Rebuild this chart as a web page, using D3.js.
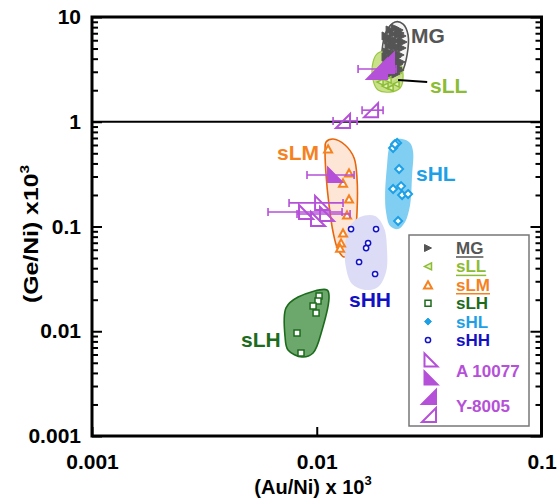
<!DOCTYPE html>
<html><head><meta charset="utf-8">
<script src="https://cdn.jsdelivr.net/npm/d3@7"></script>
<style>
body{margin:0;background:#fff}
text{font-family:"Liberation Sans",Arial,Helvetica,sans-serif;font-weight:bold}
</style>
</head><body>
<svg id="c" width="557" height="501"></svg>
<script>
// ---------- DATA ----------
const xTickValues = [0.001, 0.01, 0.1];
const xTickLabels = ["0.001", "0.01", "0.1"];
const yTickValues = [0.001, 0.01, 0.1, 1, 10];
const yTickLabels = ["0.001", "0.01", "0.1", "1", "10"];
const groupNames = ["MG", "sLL", "sLM", "sLH", "sHL", "sHH"];
const meteoriteNames = ["A 10077", "Y-8005"];

const mgHull = [[0.02231,8.96],[0.02422,8.57],[0.02549,6.73],[0.02523,4.34],[0.02397,2.99],[0.02186,2.39],[0.02034,2.39],[0.01953,3.12],[0.01953,4.84],[0.02034,7.19]];
const mgPoints = [[0.02120,7.51],[0.02231,7.85],[0.02325,7.51],[0.02186,6.88],[0.02301,6.73],[0.02397,6.59],[0.02077,6.03],[0.02164,6.03],[0.02254,5.90],[0.02373,5.77],[0.02098,5.29],[0.02208,5.17],[0.02301,5.06],[0.02397,5.06],[0.02055,4.63],[0.02142,4.53],[0.02254,4.43],[0.02349,4.34],[0.02077,3.97],[0.02186,3.89],[0.02278,3.80],[0.02373,3.72],[0.02098,3.40],[0.02208,3.33],[0.02301,3.26],[0.02142,2.99],[0.02254,2.86],[0.02077,2.80],[0.02186,5.40],[0.02278,4.15],[0.02034,6.59],[0.02349,7.03],[0.02422,5.77],[0.02055,3.64],[0.02164,3.56],[0.02325,3.56],[0.02120,3.12],[0.02231,3.12],[0.02349,3.12],[0.02034,4.15]];

const sllHull = [[0.01874,4.53],[0.02120,4.63],[0.02301,4.06],[0.02422,2.80],[0.02349,2.10],[0.02120,1.92],[0.01874,2.01],[0.01781,2.50],[0.01781,3.72]];
const sllPoints = [[0.01913,2.39],[0.02014,2.19],[0.02120,2.10],[0.02254,2.29],[0.02301,3.12],[0.02231,3.72],[0.02077,2.50],[0.01993,3.26]];

const slmHull = [[0.01100,0.641],[0.01182,0.684],[0.01336,0.600],[0.01466,0.451],[0.01512,0.278],[0.01512,0.1437],[0.01481,0.0830],[0.01407,0.0571],[0.01323,0.0511],[0.01244,0.0597],[0.01182,0.0886],[0.01134,0.1604],[0.01100,0.310],[0.01089,0.538]];
const slmPoints = [[0.01123,0.550],[0.01392,0.324],[0.01309,0.260],[0.01392,0.183],[0.01364,0.1287],[0.01309,0.0867],[0.01283,0.0696],[0.01270,0.0623]];

const slhHull = [[0.00730,0.0167],[0.00826,0.0212],[0.01111,0.0248],[0.01134,0.0217],[0.01056,0.0103],[0.00963,0.00620],[0.00860,0.00568],[0.00745,0.00662],[0.00723,0.00881]];
const slhPoints = [[0.01024,0.0217],[0.01013,0.0194],[0.00963,0.0174],[0.00993,0.0149],[0.00817,0.00962],[0.00851,0.00620]];

const shlHull = [[0.02186,0.669],[0.02397,0.684],[0.02602,0.627],[0.02684,0.514],[0.02656,0.310],[0.02602,0.1604],[0.02472,0.1104],[0.02301,0.0946],[0.02120,0.1011],[0.02034,0.1375],[0.02014,0.200],[0.02055,0.387],[0.02098,0.562]];
const shlPoints = [[0.02278,0.627],[0.02186,0.562],[0.02231,0.610],[0.02325,0.354],[0.02373,0.243],[0.02186,0.228],[0.02397,0.200],[0.02549,0.204],[0.02301,0.1128]];

const shhHull = [[0.01558,0.1232],[0.01818,0.1259],[0.01993,0.0967],[0.02055,0.0597],[0.02034,0.0368],[0.01874,0.0265],[0.01641,0.0248],[0.01436,0.0283],[0.01350,0.0402],[0.01336,0.0666],[0.01407,0.1011]];
const shhPoints = [[0.01421,0.0946],[0.01836,0.0946],[0.01692,0.0696],[0.01658,0.0623],[0.01543,0.0458],[0.01818,0.0352]];

// purple meteorites: x, y, error bar low/high in x
const a10077Open = [{x:0.01056,y:0.168,lo:0.00753,hi:0.01309},{x:0.00896,y:0.1375,lo:0.00607,hi:0.01296},{x:0.01111,y:0.1317,lo:0.00817,hi:0.01407},{x:0.01013,y:0.1179,lo:null,hi:null}];
const a10077Filled = [{x:0.01206,y:0.310,lo:0.00905,hi:0.01466}];
const y8005Open = [{x:0.01309,y:1.017,lo:0.01182,hi:0.01512},{x:0.01745,y:1.29,lo:0.01591,hi:0.01973}];
const y8005Filled = [{x:0.01855,y:3.19,lo:0.01527,hi:0.02254},{x:0.01993,y:3.64,lo:null,hi:null}];

// ---------- CHART ----------
const svg = d3.select("#c");
const L = 92, R = 541.5, T = 17, B = 436;
const x = d3.scaleLog().domain([0.001, 0.1]).range([L, R]);
const y = d3.scaleLog().domain([0.001, 10]).range([B, T]);

const col = {MG:"#555555", sLL:"#8cbc34", sLM:"#f5821f", sLH:"#1d6b1d", sHL:"#1ea0e6", sHH:"#1212c4", P:"#b550d8"};

const hullLine = d3.line().x(d => x(d[0])).y(d => y(d[1])).curve(d3.curveCatmullRomClosed.alpha(0.5));

const gH = svg.append("g");
gH.append("path").attr("d", hullLine(mgHull)).attr("fill", "#f4f4f4").attr("stroke", "#555").attr("stroke-width", 1.6);
gH.append("path").attr("d", hullLine(sllHull)).attr("fill", "#c6e083").attr("fill-opacity", 0.95).attr("stroke", "#9cc640").attr("stroke-width", 1.2);
gH.append("path").attr("d", hullLine(slmHull)).attr("fill", "#fde6d6").attr("stroke", "#e8650c").attr("stroke-width", 1.6);
gH.append("path").attr("d", hullLine(shlHull)).attr("fill", "#80cff3");
gH.append("path").attr("d", hullLine(shhHull)).attr("fill", "#dcdcf6");
gH.append("path").attr("d", hullLine(slhHull)).attr("fill", "#6ca86c").attr("stroke", "#1d6b1d").attr("stroke-width", 1.6);

// separator line at y = 1
svg.append("line").attr("x1", L).attr("x2", R).attr("y1", y(1)).attr("y2", y(1)).attr("stroke", "#000").attr("stroke-width", 2);

// markers
function triRight(s){ return `M${-s/2},${-s/2}L${s/2},0L${-s/2},${s/2}Z`; }
function triLeft(s){ return `M${s/2},${-s/2}L${-s/2},0L${s/2},${s/2}Z`; }
function triUp(s){ const h=s*0.9; return `M0,${-h/2}L${s/2},${h/2}L${-s/2},${h/2}Z`; }
function diamond(s){ return `M0,${-s/2}L${s/2},0L0,${s/2}L${-s/2},0Z`; }
function square(s){ return `M${-s/2},${-s/2}h${s}v${s}h${-s}Z`; }
function rtA(s){ return `M${-s/2},${-s/2}L${-s/2},${s/2}L${s/2},${s/2}Z`; }
function rtY(s){ return `M${s/2},${-s/2}L${s/2},${s/2}L${-s/2},${s/2}Z`; }

const gP = svg.append("g");
function plotPts(pts, pathStr, fill, stroke, sw){
  gP.append("g").selectAll("path").data(pts).join("path")
    .attr("transform", d => `translate(${x(d[0])},${y(d[1])})`)
    .attr("d", pathStr).attr("fill", fill).attr("stroke", stroke).attr("stroke-width", sw);
}
plotPts(sllPoints, triLeft(6), "#e4f2c4", col.sLL, 1.5);
plotPts(mgPoints, triRight(8), col.MG, col.MG, 1);
plotPts(slmPoints, triUp(8), "#fff", col.sLM, 2);
plotPts(slhPoints, square(6), "#fff", col.sLH, 1.5);
plotPts(shlPoints, diamond(8), "#fff", col.sHL, 2);
gP.append("g").selectAll("circle").data(shhPoints).join("circle")
  .attr("cx", d => x(d[0])).attr("cy", d => y(d[1])).attr("r", 2.6)
  .attr("fill", "#fff").attr("stroke", col.sHH).attr("stroke-width", 1.5);

// purple meteorite data with error bars
const gM = svg.append("g");
function plotMet(arr, pathStr, filled){
  const bars = arr.filter(d => d.lo != null);
  const g = gM.append("g");
  g.selectAll("line.bar").data(bars).join("line").attr("class","bar")
    .attr("x1", d => x(d.lo)).attr("x2", d => x(d.hi)).attr("y1", d => y(d.y)).attr("y2", d => y(d.y))
    .attr("stroke", col.P).attr("stroke-width", 1.6);
  ["lo","hi"].forEach(k => {
    g.selectAll("line.cap"+k).data(bars).join("line").attr("class","cap"+k)
      .attr("x1", d => x(d[k])).attr("x2", d => x(d[k])).attr("y1", d => y(d.y)-4).attr("y2", d => y(d.y)+4)
      .attr("stroke", col.P).attr("stroke-width", 1.6);
  });
  g.selectAll("path").data(arr).join("path")
    .attr("transform", d => `translate(${x(d.x)},${y(d.y)})`)
    .attr("d", pathStr).attr("fill", filled ? col.P : "none").attr("stroke", col.P).attr("stroke-width", 2);
}
plotMet(a10077Open, rtA(14), false);
plotMet(a10077Filled, rtA(14), true);
plotMet(y8005Open, rtY(14), false);
plotMet(y8005Filled, rtY(20), true);

// sLL leader line
svg.append("line").attr("x1", x(0.02301)).attr("y1", y(2.50)).attr("x2", x(0.0310)).attr("y2", y(2.39))
  .attr("stroke", "#000").attr("stroke-width", 2);

// group labels
const labels = [
  {t:"MG", c:col.MG, px:411, py:43},
  {t:"sLL", c:col.sLL, px:430, py:93},
  {t:"sLM", c:col.sLM, px:277, py:160},
  {t:"sHL", c:col.sHL, px:416, py:181},
  {t:"sHH", c:col.sHH, px:349, py:307},
  {t:"sLH", c:col.sLH, px:241, py:347}
];
svg.append("g").selectAll("text").data(labels).join("text")
  .attr("x", d => d.px).attr("y", d => d.py).attr("fill", d => d.c)
  .style("font-size", "21px").text(d => d.t);

// ---------- AXES ----------
const minorY = y.ticks().filter(v => !yTickValues.includes(v));

const axG = svg.append("g");
// left
axG.append("g").attr("transform", `translate(${L},0)`)
  .call(d3.axisLeft(y).tickValues(minorY).tickSize(-6).tickFormat(""))
  .call(g => g.select(".domain").remove());
axG.append("g").attr("transform", `translate(${L},0)`)
  .call(d3.axisLeft(y).tickValues(yTickValues).tickSize(-10).tickPadding(11).tickFormat((d,i) => yTickLabels[i]))
  .call(g => g.select(".domain").remove())
  .call(g => g.selectAll("text").style("font-size","21px").attr("fill","#000"));
// right
axG.append("g").attr("transform", `translate(${R},0)`)
  .call(d3.axisRight(y).tickValues(minorY).tickSize(-6).tickFormat(""))
  .call(g => g.select(".domain").remove());
axG.append("g").attr("transform", `translate(${R},0)`)
  .call(d3.axisRight(y).tickValues(yTickValues).tickSize(-11).tickFormat(""))
  .call(g => g.select(".domain").remove());
// bottom
axG.append("g").attr("transform", `translate(0,${B})`)
  .call(d3.axisBottom(x).tickValues(xTickValues).tickSize(-9).tickPadding(18).tickFormat((d,i) => xTickLabels[i]))
  .call(g => g.select(".domain").remove())
  .call(g => g.selectAll("text").style("font-size","21px").attr("fill","#000"));
axG.selectAll(".tick line").attr("stroke","#000").attr("stroke-width",2);

// frame
svg.append("rect").attr("x", L).attr("y", T).attr("width", R-L).attr("height", B-T)
  .attr("fill","none").attr("stroke","#000").attr("stroke-width",3);

// axis titles
const xt = svg.append("text").attr("x", 313).attr("y", 494).attr("text-anchor","middle").style("font-size","20px");
xt.append("tspan").text("(Au/Ni) x 10");
xt.append("tspan").attr("dy", -9).style("font-size","13px").text("3");

const yt = svg.append("text").attr("transform", "translate(38,234) rotate(-90) scale(1.18,1)").attr("text-anchor","middle").style("font-size","21px");
yt.append("tspan").text("(Ge/Ni) x10");
yt.append("tspan").attr("dy", -9).style("font-size","13px").text("3");

// ---------- LEGEND ----------
const lg = svg.append("g");
lg.append("rect").attr("x", 409).attr("y", 235).attr("width", 120).attr("height", 191)
  .attr("fill", "#fff").attr("stroke", "#777").attr("stroke-width", 1.5);
const legendRows = [
  {name: groupNames[0], c: col.MG, sym: triRight(7), fill: col.MG, sw: 1, u: true},
  {name: groupNames[1], c: col.sLL, sym: triLeft(7), fill: "#e4f2c4", sw: 1.5, u: true},
  {name: groupNames[2], c: col.sLM, sym: triUp(8), fill: "#fff", sw: 2, u: true},
  {name: groupNames[3], c: col.sLH, sym: square(6), fill: "#fff", sw: 1.5, u: false},
  {name: groupNames[4], c: col.sHL, sym: diamond(7), fill: col.sHL, sw: 1, u: false},
  {name: groupNames[5], c: col.sHH, sym: null, fill: "#fff", sw: 1.5, u: false}
];
legendRows.forEach((r, i) => {
  const cy = 248 + i * 18.4;
  if (r.sym) lg.append("path").attr("transform", `translate(428,${cy})`).attr("d", r.sym)
    .attr("fill", r.fill).attr("stroke", r.c).attr("stroke-width", r.sw);
  else lg.append("circle").attr("cx", 428).attr("cy", cy).attr("r", 2.6).attr("fill", "#fff").attr("stroke", r.c).attr("stroke-width", 1.5);
  const t = lg.append("text").attr("x", 456).attr("y", cy + 6).attr("fill", r.c).style("font-size", "17px").text(r.name);
  if (r.u) {
    const w = t.node().getComputedTextLength();
    lg.append("line").attr("x1", 456).attr("x2", 456 + w).attr("y1", cy + 9).attr("y2", cy + 9).attr("stroke", r.c).attr("stroke-width", 1.5);
  }
});
// meteorite legend
lg.append("path").attr("transform","translate(431,360)").attr("d", rtA(13)).attr("fill","none").attr("stroke",col.P).attr("stroke-width",2);
lg.append("path").attr("transform","translate(431,378)").attr("d", rtA(13)).attr("fill",col.P).attr("stroke",col.P).attr("stroke-width",2);
lg.append("path").attr("transform","translate(429,397)").attr("d", rtY(14)).attr("fill",col.P).attr("stroke",col.P).attr("stroke-width",2);
lg.append("path").attr("transform","translate(429,415)").attr("d", rtY(14)).attr("fill","none").attr("stroke",col.P).attr("stroke-width",2);
lg.append("text").attr("x", 456).attr("y", 377).attr("fill", col.P).style("font-size","17px").text(meteoriteNames[0]);
lg.append("text").attr("x", 456).attr("y", 412).attr("fill", col.P).style("font-size","17px").text(meteoriteNames[1]);
</script>
</body></html>
